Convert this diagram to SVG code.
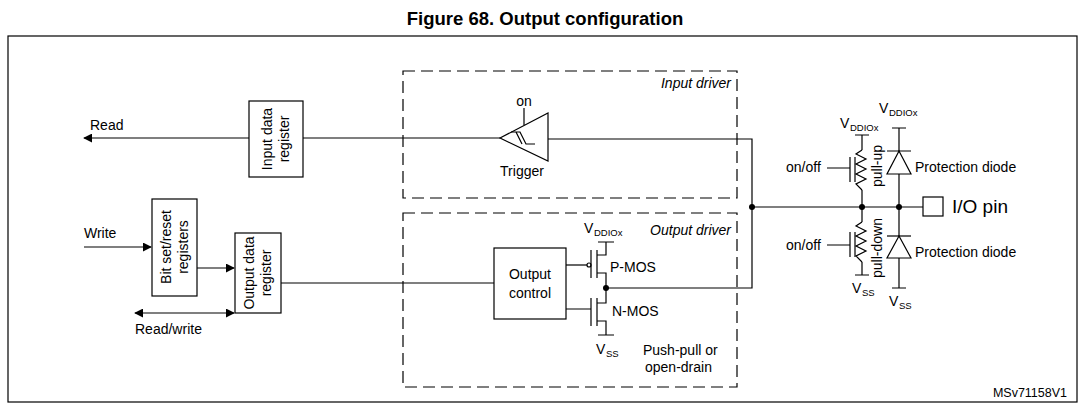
<svg xmlns="http://www.w3.org/2000/svg" width="1085" height="410" viewBox="0 0 1085 410">
<defs>
<marker id="ah" viewBox="0 0 10 10" refX="9" refY="5" markerWidth="9" markerHeight="9" markerUnits="userSpaceOnUse" orient="auto-start-reverse"><path d="M0,0 L10,5 L0,10 z" fill="#000"/></marker>
</defs>
<style>
text{font-family:"Liberation Sans",Arial,sans-serif;font-size:14px;fill:#000}
.s{font-size:9.5px}
.box{fill:#fff;stroke:#000;stroke-width:1.2}
.dash{fill:none;stroke:#000;stroke-width:1.2;stroke-dasharray:12,6}
.w{fill:none;stroke:#000;stroke-width:1.2}
.it{font-style:italic}
</style>
<rect width="1085" height="410" fill="#fff"/>
<text x="545" y="25" text-anchor="middle" style="font-size:18.5px;font-weight:bold">Figure 68. Output configuration</text>
<rect x="8" y="36" width="1069" height="366" class="w"/>

<g id="input-driver"><rect x="403" y="71" width="334" height="127" class="dash"/><text x="731" y="88" text-anchor="end" class="it">Input driver</text></g>
<g id="output-driver"><rect x="403" y="213" width="334" height="174" class="dash"/><text x="731" y="235" text-anchor="end" class="it">Output driver</text><text x="643" y="355">Push-pull or</text><text x="645" y="372">open-drain</text></g>

<g id="connectors">
<path d="M249,138 H84" class="w" marker-end="url(#ah)"/>
<path d="M303,138 H500" class="w"/>
<path d="M548,139 H752 V288 H606" class="w"/>
<path d="M752,207 H923" class="w"/>
<path d="M84,247 H151" class="w" marker-end="url(#ah)"/>
<path d="M197,268 H234" class="w" marker-end="url(#ah)"/>
<path d="M135,313 H234" class="w" marker-start="url(#ah)" marker-end="url(#ah)"/>
<path d="M281,283 H494" class="w"/>
<circle cx="752" cy="207" r="3"/><circle cx="862" cy="207" r="3"/><circle cx="899" cy="207" r="3"/><circle cx="606" cy="288" r="3"/>
</g>

<g id="read-label"><text x="90" y="130">Read</text></g>
<g id="write-label"><text x="84" y="238">Write</text></g>
<g id="rw-label"><text x="135" y="334">Read/write</text></g>

<g id="input-data-register"><rect x="249" y="101" width="54" height="76" class="box"/><text transform="translate(272,139) rotate(-90)" text-anchor="middle">Input data</text><text transform="translate(289,139) rotate(-90)" text-anchor="middle">register</text></g>
<g id="bit-set-reset"><rect x="152" y="199" width="45" height="97" class="box"/><text transform="translate(171,247) rotate(-90)" text-anchor="middle">Bit set/reset</text><text transform="translate(188,247) rotate(-90)" text-anchor="middle">registers</text></g>
<g id="output-data-register"><rect x="235" y="233" width="46" height="80" class="box"/><text transform="translate(254,273) rotate(-90)" text-anchor="middle">Output data</text><text transform="translate(271,273) rotate(-90)" text-anchor="middle">register</text></g>

<g id="trigger"><path d="M500,138 L548,113 V161 Z" class="box"/><path d="M524,125 V108" class="w"/><text x="524" y="106" text-anchor="middle">on</text><path d="M511,132 H520 L526,144 H535 M516,132 L522,144" class="w" stroke-width="0.9"/><text x="522" y="176" text-anchor="middle">Trigger</text></g>

<g id="output-control"><rect x="494" y="248" width="72" height="71" class="box"/><text x="530" y="279" text-anchor="middle">Output</text><text x="530" y="298" text-anchor="middle">control</text></g>

<g id="pmos"><path d="M566,265 H587" class="w"/><circle cx="589" cy="265" r="2" class="box"/><path d="M591,250 V278 M597,250 V278 M597,255 H606 V242 M598,242 H614 M597,273 H606 V288" class="w"/><text x="610" y="272">P-MOS</text><text x="584" y="233">V</text><text x="594" y="236" class="s">DDIOx</text></g>
<g id="nmos"><path d="M566,309 H591 M591,298 V326 M597,298 V326 M597,303 H606 V288 M597,321 H606 V335 M598,335 H614" class="w"/><text x="612" y="316">N-MOS</text><text x="596" y="354">V</text><text x="606" y="357" class="s">SS</text></g>

<g id="pull-up"><path d="M855,135 H869 M862,135 V150 M862,190 V207 M850,157 V182 M827,168 H850" class="w"/><path d="M855,157 V182" class="w"/><path d="M862,150 L856,154 L866,159 L856,164 L866,169 L856,174 L866,179 L856,184 L862,190" class="w" stroke-width="0.9"/><text x="786" y="172">on/off</text><text transform="translate(882,166) rotate(-90)" text-anchor="middle">pull-up</text><text x="840" y="128">V</text><text x="850" y="131" class="s">DDIOx</text></g>
<g id="pull-down"><path d="M855,275 H869 M862,275 V262 M862,222 V207 M850,232 V257 M827,245 H850" class="w"/><path d="M855,232 V257" class="w"/><path d="M862,222 L856,226 L866,231 L856,236 L866,241 L856,246 L866,251 L856,256 L862,262" class="w" stroke-width="0.9"/><text x="786" y="250">on/off</text><text transform="translate(882,248) rotate(-90)" text-anchor="middle">pull-down</text><text x="852" y="293">V</text><text x="862" y="296" class="s">SS</text></g>

<g id="diode-up"><path d="M892,128 H906 M899,128 V288 M892,288 H906 M887,151 H911" class="w"/><path d="M899,151 L887,174 H911 Z" class="box"/><text x="915" y="172">Protection diode</text><text x="879" y="113">V</text><text x="889" y="116" class="s">DDIOx</text></g>
<g id="diode-down"><path d="M887,236 H911" class="w"/><path d="M899,236 L887,258 H911 Z" class="box"/><text x="915" y="257">Protection diode</text><text x="889" y="306">V</text><text x="899" y="309" class="s">SS</text></g>

<g id="io-pin"><rect x="923" y="197" width="20" height="19" class="box"/><text x="952" y="213" style="font-size:19px">I/O pin</text></g>
<text x="1067" y="397" text-anchor="end" style="font-size:12.5px">MSv71158V1</text>
</svg>
